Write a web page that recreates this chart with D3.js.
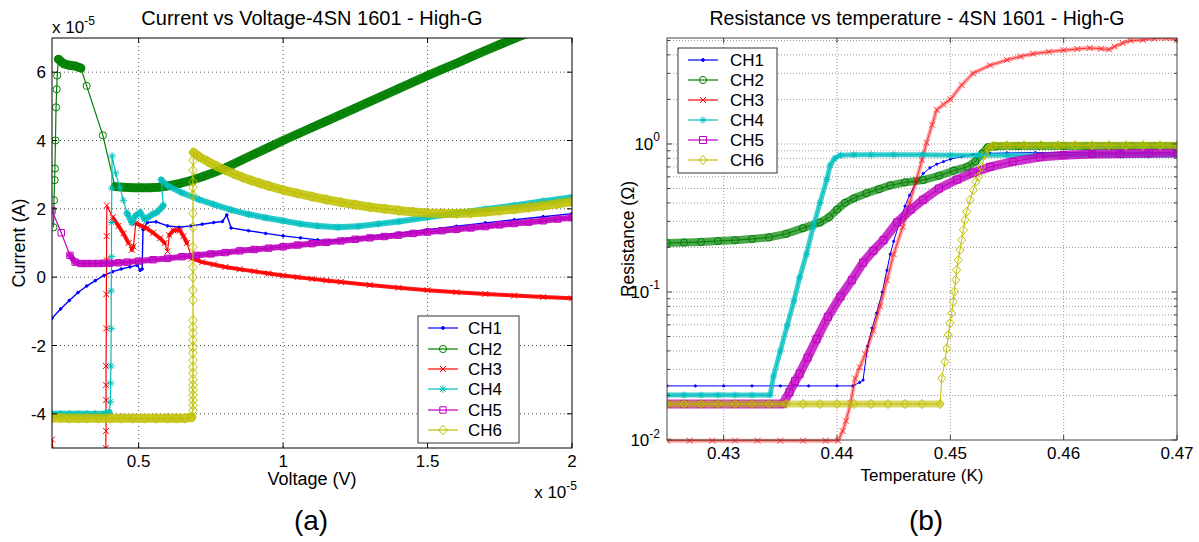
<!DOCTYPE html>
<html>
<head>
<meta charset="utf-8">
<script src="https://cdn.jsdelivr.net/npm/d3@7"></script>
<style>
  body { margin: 0; background: #ffffff; }
  svg { display: block; font-family: Arial, "Liberation Sans", Helvetica, sans-serif; }
</style>
</head>
<body>
<svg id="fig" width="1199" height="542"></svg>
<script>
// ---- shared legend / channel names ----
const channels = ["CH1", "CH2", "CH3", "CH4", "CH5", "CH6"];

// ---- panel (a): current vs voltage, both axes in units of 1e-5 ----
const ivXTicks = [0.5, 1, 1.5, 2];
const ivXTickLabels = ["0.5", "1", "1.5", "2"];
const ivYTicks = [-4, -2, 0, 2, 4, 6];
const ivYTickLabels = ["-4", "-2", "0", "2", "4", "6"];

const ivCH1 = [[0.20,-1.20],[0.23,-0.93],[0.26,-0.68],[0.29,-0.45],[0.32,-0.26],[0.35,-0.10],[0.38,0.05],[0.41,0.16],[0.44,0.24],[0.47,0.30],[0.495,0.35],[0.505,0.20],[0.512,0.24],[0.515,1.40],[0.53,1.60],[0.56,1.62],[0.60,1.50],[0.64,1.46],[0.68,1.50],[0.72,1.55],[0.76,1.60],[0.79,1.63],[0.805,1.82],[0.82,1.44],[0.88,1.36],[0.94,1.28],[1.00,1.21],[1.06,1.15],[1.12,1.09],[1.16,1.07],[1.22,1.11],[1.30,1.19],[1.40,1.29],[1.50,1.39],[1.60,1.49],[1.70,1.59],[1.80,1.68],[1.90,1.77],[2.00,1.86]];

const ivCH2 = [[0.205,1.46],[0.207,2.25],[0.209,2.84],[0.210,3.18],[0.212,4.00],[0.214,4.97],[0.216,5.50],[0.218,5.90],[0.222,6.38],[0.24,6.25],[0.26,6.20],[0.28,6.18],[0.30,6.12],[0.32,5.60],[0.376,4.15],[0.418,2.65],[0.45,2.63],[0.48,2.62],[0.51,2.62],[0.54,2.62],[0.57,2.63],[0.60,2.67],[0.64,2.74],[0.68,2.83],[0.72,2.94],[0.76,3.06],[0.80,3.20],[0.85,3.40],[0.90,3.60],[0.95,3.80],[1.00,4.00],[1.05,4.19],[1.10,4.38],[1.15,4.57],[1.20,4.76],[1.25,4.95],[1.30,5.14],[1.35,5.33],[1.40,5.52],[1.45,5.71],[1.50,5.90],[1.55,6.08],[1.60,6.26],[1.65,6.45],[1.70,6.63],[1.75,6.81],[1.80,6.98],[1.84,7.12]];

const ivCH3 = [[0.200,-4.75],[0.206,-5.30],[0.386,-5.30],[0.386,-5.00],[0.387,-4.50],[0.387,-3.60],[0.387,-3.16],[0.387,-2.60],[0.388,-1.50],[0.388,-0.50],[0.389,0.50],[0.389,1.20],[0.390,2.10],[0.41,1.75],[0.43,1.50],[0.447,1.28],[0.465,1.00],[0.476,0.80],[0.482,0.90],[0.490,1.58],[0.510,1.50],[0.528,1.43],[0.55,1.30],[0.574,1.14],[0.59,1.00],[0.60,0.75],[0.606,1.23],[0.62,1.37],[0.643,1.37],[0.655,1.20],[0.667,1.00],[0.684,0.55],[0.72,0.44],[0.76,0.37],[0.80,0.30],[0.85,0.23],[0.90,0.17],[0.95,0.11],[1.00,0.05],[1.05,0.00],[1.10,-0.05],[1.15,-0.10],[1.20,-0.14],[1.30,-0.23],[1.40,-0.31],[1.50,-0.38],[1.60,-0.44],[1.70,-0.49],[1.80,-0.54],[1.90,-0.58],[2.00,-0.62]];

const ivCH4 = [[0.20,-4.00],[0.23,-4.00],[0.26,-4.00],[0.29,-4.00],[0.32,-4.00],[0.35,-4.00],[0.38,-4.00],[0.398,-3.95],[0.402,-3.65],[0.403,-3.10],[0.404,-2.60],[0.405,-1.50],[0.405,-0.40],[0.406,0.60],[0.406,1.60],[0.407,2.60],[0.408,3.55],[0.42,3.05],[0.435,2.63],[0.447,2.25],[0.46,1.87],[0.476,1.60],[0.49,1.80],[0.505,1.90],[0.52,1.70],[0.532,1.75],[0.55,1.85],[0.563,1.90],[0.575,2.00],[0.585,2.10],[0.578,2.85],[0.60,2.68],[0.65,2.47],[0.71,2.27],[0.76,2.13],[0.82,1.97],[0.88,1.84],[0.94,1.74],[1.00,1.65],[1.06,1.56],[1.12,1.50],[1.19,1.46],[1.26,1.49],[1.33,1.56],[1.40,1.63],[1.50,1.75],[1.60,1.87],[1.70,1.99],[1.80,2.10],[1.90,2.22],[2.00,2.34]];

const ivCH5 = [[0.20,1.95],[0.232,1.30],[0.262,0.64],[0.28,0.44],[0.30,0.40],[0.32,0.40],[0.34,0.40],[0.36,0.40],[0.38,0.41],[0.40,0.41],[0.43,0.42],[0.46,0.44],[0.50,0.47],[0.55,0.51],[0.60,0.55],[0.65,0.60],[0.70,0.64],[0.75,0.68],[0.80,0.72],[0.85,0.77],[0.90,0.81],[0.95,0.85],[1.00,0.89],[1.05,0.94],[1.10,0.98],[1.15,1.02],[1.20,1.06],[1.25,1.11],[1.30,1.15],[1.35,1.19],[1.40,1.23],[1.45,1.28],[1.50,1.32],[1.55,1.36],[1.60,1.40],[1.65,1.44],[1.70,1.48],[1.75,1.53],[1.80,1.57],[1.85,1.61],[1.90,1.65],[1.95,1.70],[2.00,1.74]];

const ivCH6 = [[0.20,-4.12],[0.23,-4.12],[0.26,-4.13],[0.29,-4.13],[0.32,-4.13],[0.36,-4.13],[0.40,-4.13],[0.44,-4.13],[0.48,-4.13],[0.52,-4.13],[0.56,-4.13],[0.60,-4.13],[0.63,-4.13],[0.66,-4.13],[0.684,-4.10],[0.688,-3.90],[0.688,-3.74],[0.688,-3.60],[0.688,-3.45],[0.688,-3.30],[0.688,-3.16],[0.688,-3.00],[0.688,-2.81],[0.688,-2.63],[0.688,-2.43],[0.688,-2.22],[0.688,-2.05],[0.688,-1.84],[0.688,-1.64],[0.688,-1.46],[0.688,-1.26],[0.688,-0.67],[0.688,-0.38],[0.688,0.00],[0.688,0.29],[0.688,0.88],[0.688,1.46],[0.688,1.87],[0.688,2.40],[0.688,2.63],[0.688,2.78],[0.688,3.13],[0.689,3.42],[0.690,3.65],[0.71,3.52],[0.74,3.38],[0.77,3.25],[0.80,3.13],[0.83,3.02],[0.86,2.92],[0.89,2.83],[0.92,2.75],[0.95,2.67],[1.00,2.55],[1.05,2.45],[1.10,2.36],[1.15,2.27],[1.20,2.19],[1.25,2.12],[1.30,2.05],[1.35,2.00],[1.40,1.95],[1.45,1.91],[1.50,1.88],[1.55,1.86],[1.60,1.86],[1.65,1.88],[1.70,1.91],[1.75,1.95],[1.80,1.99],[1.85,2.04],[1.90,2.09],[1.95,2.15],[2.00,2.21]];

// ---- panel (b): resistance (ohm, log axis) vs temperature (K) ----
const rtXTicks = [0.43, 0.44, 0.45, 0.46, 0.47];
const rtXTickLabels = ["0.43", "0.44", "0.45", "0.46", "0.47"];
const rtYTicks = [0.01, 0.1, 1];
const rtYTickExps = ["-2", "-1", "0"];

const rtCH1 = [[0.425,0.0232],[0.4275,0.0232],[0.430,0.0232],[0.4325,0.0232],[0.435,0.0232],[0.4375,0.0232],[0.440,0.0232],[0.4414,0.0232],[0.4420,0.0245],[0.4423,0.0254],[0.4427,0.043],[0.4431,0.057],[0.4435,0.072],[0.4440,0.10],[0.4444,0.14],[0.4447,0.18],[0.4450,0.22],[0.4456,0.31],[0.4460,0.38],[0.4464,0.45],[0.4470,0.55],[0.4476,0.63],[0.4482,0.69],[0.4488,0.73],[0.4494,0.76],[0.4500,0.79],[0.4510,0.82],[0.4520,0.85],[0.4535,0.865],[0.455,0.87],[0.4575,0.875],[0.460,0.875],[0.4625,0.88],[0.465,0.88],[0.4675,0.88],[0.470,0.88]];

const rtCH2 = [[0.425,0.214],[0.4265,0.216],[0.428,0.218],[0.4295,0.221],[0.431,0.224],[0.4325,0.228],[0.434,0.234],[0.4355,0.247],[0.437,0.270],[0.4385,0.295],[0.4393,0.32],[0.4400,0.36],[0.4407,0.40],[0.4415,0.43],[0.4426,0.465],[0.4437,0.495],[0.4447,0.525],[0.4460,0.55],[0.4476,0.57],[0.4490,0.61],[0.4503,0.66],[0.4515,0.70],[0.4522,0.76],[0.4528,0.86],[0.4533,0.95],[0.4540,0.965],[0.456,0.97],[0.458,0.97],[0.460,0.97],[0.462,0.97],[0.464,0.97],[0.466,0.97],[0.468,0.97],[0.470,0.97]];

const rtCH3 = [[0.425,0.0099],[0.427,0.0099],[0.429,0.0099],[0.431,0.0099],[0.433,0.0099],[0.435,0.0099],[0.437,0.0099],[0.439,0.0099],[0.4401,0.0099],[0.4405,0.0115],[0.4408,0.0135],[0.4412,0.0178],[0.4416,0.026],[0.4420,0.031],[0.4425,0.038],[0.4432,0.055],[0.4438,0.08],[0.4444,0.12],[0.4450,0.18],[0.4458,0.275],[0.4464,0.40],[0.4470,0.57],[0.4475,0.78],[0.4479,1.02],[0.4484,1.35],[0.4488,1.70],[0.4494,1.85],[0.4500,2.00],[0.4510,2.50],[0.4520,3.00],[0.4535,3.40],[0.4550,3.70],[0.4562,3.90],[0.4573,4.07],[0.4587,4.20],[0.4600,4.30],[0.4612,4.38],[0.4623,4.45],[0.4633,4.40],[0.4640,4.35],[0.4645,4.55],[0.4652,4.80],[0.4659,5.00],[0.4670,5.05],[0.4680,5.15],[0.4690,5.20],[0.4700,5.05]];

const rtCH4 = [[0.425,0.0201],[0.4265,0.0201],[0.428,0.0201],[0.4295,0.0201],[0.431,0.0201],[0.4325,0.0201],[0.4341,0.0201],[0.4344,0.027],[0.4350,0.040],[0.4356,0.059],[0.4362,0.087],[0.4367,0.125],[0.4373,0.18],[0.4379,0.275],[0.4385,0.40],[0.4391,0.575],[0.4394,0.72],[0.4398,0.80],[0.4403,0.84],[0.4415,0.845],[0.443,0.845],[0.445,0.845],[0.4475,0.845],[0.450,0.84],[0.4525,0.84],[0.455,0.84],[0.4575,0.84],[0.460,0.84],[0.4625,0.84],[0.465,0.84],[0.4675,0.84],[0.470,0.84]];

const rtCH5 = [[0.425,0.0175],[0.4265,0.0175],[0.428,0.0175],[0.4295,0.0175],[0.431,0.0175],[0.4325,0.0175],[0.434,0.0175],[0.4352,0.0175],[0.4358,0.021],[0.4363,0.025],[0.4367,0.028],[0.4374,0.036],[0.4382,0.048],[0.4392,0.068],[0.4403,0.093],[0.4413,0.12],[0.4423,0.158],[0.4432,0.19],[0.4441,0.224],[0.4453,0.295],[0.4465,0.36],[0.4476,0.42],[0.4490,0.50],[0.4506,0.575],[0.4520,0.64],[0.4535,0.70],[0.4555,0.76],[0.4579,0.815],[0.4600,0.84],[0.4625,0.855],[0.4650,0.86],[0.4675,0.865],[0.4700,0.87]];

const rtCH6 = [[0.425,0.0175],[0.4265,0.0175],[0.428,0.0175],[0.4295,0.0175],[0.431,0.0175],[0.4325,0.0175],[0.434,0.0175],[0.4355,0.0175],[0.437,0.0175],[0.4385,0.0175],[0.440,0.0175],[0.4415,0.0175],[0.443,0.0175],[0.4445,0.0175],[0.446,0.0175],[0.4475,0.0175],[0.4491,0.0175],[0.44924,0.0261],[0.44953,0.0338],[0.44968,0.0416],[0.44982,0.0512],[0.44997,0.0615],[0.45012,0.0718],[0.45026,0.086],[0.45035,0.1005],[0.45047,0.1205],[0.45056,0.141],[0.4507,0.1644],[0.45085,0.192],[0.4510,0.2245],[0.45115,0.2625],[0.4513,0.306],[0.45144,0.349],[0.45174,0.419],[0.45203,0.489],[0.45227,0.556],[0.45247,0.601],[0.45277,0.703],[0.45306,0.843],[0.45335,0.935],[0.4538,0.975],[0.4550,0.98],[0.4565,0.98],[0.458,0.98],[0.4595,0.98],[0.461,0.98],[0.4625,0.98],[0.464,0.98],[0.4655,0.98],[0.467,0.98],[0.4685,0.98],[0.470,0.98]];

const ivSeries = [ivCH1, ivCH2, ivCH3, ivCH4, ivCH5, ivCH6];
const rtSeries = [rtCH1, rtCH2, rtCH3, rtCH4, rtCH5, rtCH6];

// ---- MATLAB-style line colours and markers ----
const palette = ["#0000ff", "#008000", "#ff0000", "#00bfbf", "#bf00bf", "#bfbf00"];
const glyphs = ["point", "circle", "x", "star", "square", "diamond"];

// per-series rendering: thin connecting line, optional "band" that mimics
// heavily overlapped markers, and the marker glyph size
const ivStyle = [
  { line: 1.4, band: 0, size: 1.3 },
  { line: 1.2, band: 9, bandOp: 0.95, size: 3.6 },
  { line: 1.2, band: 4, bandOp: 0.9, size: 3 },
  { line: 1.2, band: 6, bandOp: 0.85, size: 3.8 },
  { line: 1.2, band: 6, bandOp: 0.9, size: 3.2 },
  { line: 1.2, band: 9, bandOp: 0.85, size: 4.3 }
];
const rtStyle = [
  { line: 1, band: 0, size: 1.1 },
  { line: 1, band: 8, bandOp: 0.7, size: 3.6, steep: true },
  { line: 1, band: 4, bandOp: 0.45, size: 3, op: 0.8, steep: true },
  { line: 1, band: 5, bandOp: 0.75, size: 3.5, steep: true },
  { line: 1, band: 9, bandOp: 0.8, size: 3.5, steep: true },
  { line: 1, band: 7, bandOp: 0.6, size: 4 }
];

const svg = d3.select("#fig");

function glyphPath(kind, s) {
  if (kind === "circle" || kind === "point")
    return `M${-s},0A${s},${s} 0 1,0 ${s},0A${s},${s} 0 1,0 ${-s},0Z`;
  if (kind === "square") return `M${-s},${-s}H${s}V${s}H${-s}Z`;
  if (kind === "diamond") return `M0,${-s * 1.15}L${s},0L0,${s * 1.15}L${-s},0Z`;
  if (kind === "x") return `M${-s},${-s}L${s},${s}M${-s},${s}L${s},${-s}`;
  const d = s * 0.72; // asterisk
  return `M${-s},0H${s}M0,${-s}V${s}M${-d},${-d}L${d},${d}M${-d},${d}L${d},${-d}`;
}

// consecutive runs of segments that get the marker band (near-vertical jumps
// are drawn as a plain line of separate markers unless steep bands are allowed)
function bandRuns(pts, x, y, allowSteep) {
  const runs = [];
  let cur = null;
  for (let i = 1; i < pts.length; i++) {
    const a = pts[i - 1], b = pts[i];
    const dx = Math.abs(x(b[0]) - x(a[0])), dy = Math.abs(y(b[1]) - y(a[1]));
    if (allowSteep || dy <= 2 * dx) {
      if (!cur) { cur = [a]; runs.push(cur); }
      cur.push(b);
    } else cur = null;
  }
  return runs;
}

function drawSeries(layer, data, x, y, color, glyph, st) {
  const line = d3.line().x(d => x(d[0])).y(d => y(d[1]));
  const g = layer.append("g").attr("opacity", st.op || 1);
  if (st.band) {
    bandRuns(data, x, y, !!st.steep).forEach(run => {
      g.append("path").attr("d", line(run)).attr("fill", "none")
        .attr("stroke", color).attr("stroke-width", st.band)
        .attr("stroke-opacity", st.bandOp)
        .attr("stroke-linecap", "round").attr("stroke-linejoin", "round");
    });
  }
  g.append("path").attr("d", line(data)).attr("fill", "none")
    .attr("stroke", color).attr("stroke-width", st.line);
  g.selectAll(null).data(data).join("path")
    .attr("transform", d => `translate(${x(d[0])},${y(d[1])})`)
    .attr("d", glyphPath(glyph, st.size))
    .attr("fill", glyph === "point" ? color : "none")
    .attr("stroke", color).attr("stroke-width", 1);
}

function drawLegend(g, x0, y0, w, h, rowY, lineX1, lineX2, textX, styles) {
  g.append("rect").attr("x", x0).attr("y", y0).attr("width", w).attr("height", h)
    .attr("fill", "#fff").attr("stroke", "#333").attr("stroke-width", 1);
  channels.forEach((name, i) => {
    const yy = rowY[i];
    g.append("line").attr("x1", lineX1).attr("x2", lineX2).attr("y1", yy).attr("y2", yy)
      .attr("stroke", palette[i]).attr("stroke-width", 1.2);
    g.append("path").attr("transform", `translate(${(lineX1 + lineX2) / 2},${yy})`)
      .attr("d", glyphPath(glyphs[i], Math.max(styles[i].size, 1.4)))
      .attr("fill", glyphs[i] === "point" ? palette[i] : "none")
      .attr("stroke", palette[i]).attr("stroke-width", 1);
    g.append("text").attr("x", textX).attr("y", yy + 6).attr("font-size", 17)
      .attr("fill", "#000").text(name);
  });
}

function superLabel(g, x, y, anchor, base, exp, size, supSize) {
  const t = g.append("text").attr("x", x).attr("y", y).attr("text-anchor", anchor)
    .attr("font-size", size).attr("fill", "#000");
  t.append("tspan").text(base);
  t.append("tspan").attr("dy", -size * 0.5).attr("font-size", supSize).text(exp);
  return t;
}

// ======================= panel (a) =======================
{
  const L = 52, R = 572, T = 38, B = 448;
  const x = d3.scaleLinear().domain([0.2, 2]).range([L, R]);
  const y = d3.scaleLinear().domain([-5, 7]).range([B, T]);
  const g = svg.append("g");

  svg.append("clipPath").attr("id", "clipA")
    .append("rect").attr("x", L).attr("y", T).attr("width", R - L).attr("height", B - T);

  // dotted grid
  const grid = g.append("g").attr("stroke", "#555").attr("stroke-width", 1)
    .attr("stroke-dasharray", "1,3");
  ivXTicks.filter(v => x(v) > L + 1 && x(v) < R - 1).forEach(v =>
    grid.append("line").attr("x1", x(v)).attr("x2", x(v)).attr("y1", T).attr("y2", B));
  ivYTicks.forEach(v =>
    grid.append("line").attr("x1", L).attr("x2", R).attr("y1", y(v)).attr("y2", y(v)));

  const plot = g.append("g").attr("clip-path", "url(#clipA)");
  ivSeries.forEach((d, i) => drawSeries(plot, d, x, y, palette[i], glyphs[i], ivStyle[i]));

  // box and inward ticks
  g.append("rect").attr("x", L).attr("y", T).attr("width", R - L).attr("height", B - T)
    .attr("fill", "none").attr("stroke", "#000").attr("stroke-width", 1);
  const tk = g.append("g").attr("stroke", "#000").attr("stroke-width", 1);
  ivXTicks.forEach(v => {
    tk.append("line").attr("x1", x(v)).attr("x2", x(v)).attr("y1", B).attr("y2", B - 5);
    tk.append("line").attr("x1", x(v)).attr("x2", x(v)).attr("y1", T).attr("y2", T + 5);
  });
  ivYTicks.forEach(v => {
    tk.append("line").attr("x1", L).attr("x2", L + 5).attr("y1", y(v)).attr("y2", y(v));
    tk.append("line").attr("x1", R).attr("x2", R - 5).attr("y1", y(v)).attr("y2", y(v));
  });

  ivXTicks.forEach((v, i) => g.append("text").attr("x", x(v)).attr("y", B + 19)
    .attr("text-anchor", "middle").attr("font-size", 17).text(ivXTickLabels[i]));
  ivYTicks.forEach((v, i) => g.append("text").attr("x", L - 6).attr("y", y(v) + 6)
    .attr("text-anchor", "end").attr("font-size", 17).text(ivYTickLabels[i]));

  superLabel(g, L, 33, "start", "x 10", "-5", 17, 12);
  superLabel(g, R + 5, 498, "end", "x 10", "-5", 17, 12);

  g.append("text").attr("x", (L + R) / 2).attr("y", 25).attr("text-anchor", "middle")
    .attr("font-size", 20).text("Current vs Voltage-4SN 1601 - High-G");
  g.append("text").attr("x", (L + R) / 2).attr("y", 485).attr("text-anchor", "middle")
    .attr("font-size", 18).text("Voltage (V)");
  g.append("text").attr("transform", `translate(25,${(T + B) / 2}) rotate(-90)`)
    .attr("text-anchor", "middle").attr("font-size", 18).text("Current (A)");
  g.append("text").attr("x", 311).attr("y", 530).attr("text-anchor", "middle")
    .attr("font-size", 28).text("(a)");

  drawLegend(g, 418, 316, 101, 127, [328, 349, 369, 389, 410, 430], 428, 458, 468, ivStyle);
}

// ======================= panel (b) =======================
{
  const L = 667, R = 1177, T = 38, B = 440;
  const x = d3.scaleLinear().domain([0.425, 0.47]).range([L, R]);
  const y = d3.scaleLog().domain([0.01, 5.2]).range([B, T]);
  const g = svg.append("g");

  svg.append("clipPath").attr("id", "clipB")
    .append("rect").attr("x", L).attr("y", T).attr("width", R - L).attr("height", B - T + 4);

  const allY = y.ticks();
  const grid = g.append("g").attr("stroke", "#9a9a9a").attr("stroke-width", 1)
    .attr("stroke-dasharray", "1,2");
  rtXTicks.filter(v => x(v) > L + 1 && x(v) < R - 1).forEach(v =>
    grid.append("line").attr("x1", x(v)).attr("x2", x(v)).attr("y1", T).attr("y2", B));
  allY.filter(v => y(v) < B - 1).forEach(v =>
    grid.append("line").attr("x1", L).attr("x2", R).attr("y1", y(v)).attr("y2", y(v)));

  const plot = g.append("g").attr("clip-path", "url(#clipB)");
  rtSeries.forEach((d, i) => drawSeries(plot, d, x, y, palette[i], glyphs[i], rtStyle[i]));

  g.append("rect").attr("x", L).attr("y", T).attr("width", R - L).attr("height", B - T)
    .attr("fill", "none").attr("stroke", "#444").attr("stroke-width", 1);
  const tk = g.append("g").attr("stroke", "#444").attr("stroke-width", 1);
  rtXTicks.forEach(v => {
    tk.append("line").attr("x1", x(v)).attr("x2", x(v)).attr("y1", B).attr("y2", B - 5);
    tk.append("line").attr("x1", x(v)).attr("x2", x(v)).attr("y1", T).attr("y2", T + 5);
  });
  allY.forEach(v => {
    const len = rtYTicks.some(m => Math.abs(m - v) < 1e-9) ? 5 : 3;
    tk.append("line").attr("x1", L).attr("x2", L + len).attr("y1", y(v)).attr("y2", y(v));
    tk.append("line").attr("x1", R).attr("x2", R - len).attr("y1", y(v)).attr("y2", y(v));
  });

  rtXTicks.forEach((v, i) => g.append("text").attr("x", x(v)).attr("y", B + 19)
    .attr("text-anchor", "middle").attr("font-size", 17).text(rtXTickLabels[i]));
  rtYTicks.forEach((v, i) => superLabel(g, L - 7, y(v) + 6, "end", "10", rtYTickExps[i], 17, 12));

  g.append("text").attr("x", (L + R) / 2 - 5).attr("y", 25).attr("text-anchor", "middle")
    .attr("font-size", 19.5).text("Resistance vs temperature - 4SN 1601 - High-G");
  g.append("text").attr("x", (L + R) / 2).attr("y", 481).attr("text-anchor", "middle")
    .attr("font-size", 17).text("Temperature (K)");
  g.append("text").attr("transform", `translate(634,${(T + B) / 2}) rotate(-90)`)
    .attr("text-anchor", "middle").attr("font-size", 17.5).text("Resistance (\u03A9)");
  g.append("text").attr("x", 926).attr("y", 530).attr("text-anchor", "middle")
    .attr("font-size", 28).text("(b)");

  drawLegend(g, 678, 48, 99, 125, [60, 80, 100, 120, 140, 160], 688, 718, 730, rtStyle);
}
</script>
</body>
</html>
